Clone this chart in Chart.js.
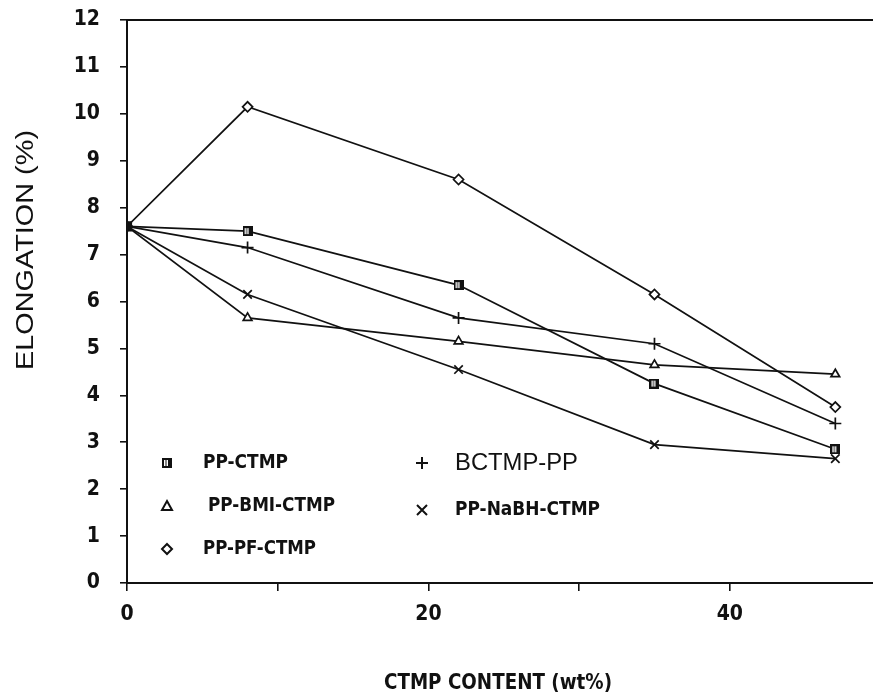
<!DOCTYPE html>
<html>
<head>
<meta charset="utf-8">
<script src="https://cdn.jsdelivr.net/npm/chart.js@4.4.0/dist/chart.umd.min.js"></script>
<style>
  body { margin: 0; background: #fff; }
  #wrap { width: 873px; height: 696px; }
</style>
</head>
<body>
<div id="wrap"><canvas id="myChart"></canvas></div>
<script>
const ctmpContent = [0, 8, 22, 35, 47];
const ppCtmp = [7.6, 7.5, 6.35, 4.25, 2.85];
const bctmpPp = [7.6, 7.15, 5.65, 5.1, 3.4];
const ppBmiCtmp = [7.6, 5.65, 5.15, 4.65, 4.45];
const ppNabhCtmp = [7.6, 6.15, 4.55, 2.95, 2.65];
const ppPfCtmp = [7.6, 10.15, 8.6, 6.15, 3.75];
const xTickLabels = [0, 20, 40];

const narrow = "'Liberation Sans Narrow', 'DejaVu Sans Condensed', 'Liberation Sans', Arial, sans-serif";
const plain = "Arial, 'Liberation Sans', sans-serif";

// little square with white bars, like the PP-CTMP mark
function makeSquareMark(size) {
    const c = document.createElement('canvas');
    c.width = size; c.height = size;
    const g = c.getContext('2d');
    g.fillStyle = '#111';
    g.fillRect(0, 0, size, size);
    g.fillStyle = '#fff';
    g.fillRect(2, 2, 1.5, size - 4);
    g.fillRect(size / 2 - 0.5, 2, 1.5, size - 4);
    return c;
}
const squareMark = makeSquareMark(10);

function toPoints(ys) {
    return ys.map((y, i) => ({ x: ctmpContent[i], y: y }));
}

function series(label, ys, style, radius, fill) {
    return {
        label: label,
        data: toPoints(ys),
        borderColor: '#111',
        borderWidth: 1.7,
        pointStyle: style,
        pointRadius: radius,
        pointBorderColor: '#111',
        pointBorderWidth: 1.7,
        pointBackgroundColor: fill,
        tension: 0,
        fill: false
    };
}

const datasets = [
    series('PP-CTMP', ppCtmp, ctx => ctx.dataIndex === 0 ? 'rect' : squareMark, ctx => ctx.dataIndex === 0 ? 6 : 5, '#111'),
    series('BCTMP-PP', bctmpPp, 'cross', 6, '#fff'),
    series('PP-BMI-CTMP', ppBmiCtmp, 'triangle', 5, '#fff'),
    series('PP-NaBH-CTMP', ppNabhCtmp, 'crossRot', 6, '#fff'),
    series('PP-PF-CTMP', ppPfCtmp, 'rectRot', 5, '#fff')
];

const legendRows = [
    { text: 'PP-CTMP', mark: 'square', mx: 167, tx: 203, y: 463, font: 'bold 19px ' + narrow, w: 85 },
    { text: 'PP-BMI-CTMP', mark: 'triangle', mx: 167, tx: 208, y: 506, font: 'bold 19px ' + narrow, w: 127 },
    { text: 'PP-PF-CTMP', mark: 'diamond', mx: 167, tx: 203, y: 549, font: 'bold 19px ' + narrow, w: 113 },
    { text: 'BCTMP-PP', mark: 'plus', mx: 422, tx: 455, y: 463, font: '24px ' + plain, w: 123 },
    { text: 'PP-NaBH-CTMP', mark: 'x', mx: 422, tx: 455, y: 510, font: 'bold 19px ' + narrow, w: 145 }
];

// draw text squeezed or stretched to a given width
function fitText(c, text, x, y, width) {
    const m = c.measureText(text).width;
    c.save();
    c.translate(x, y);
    c.scale(width / m, 1);
    c.fillText(text, 0, 0);
    c.restore();
}

const decorPlugin = {
    id: 'decor',
    afterDraw(chart) {
        const c = chart.ctx;
        const area = chart.chartArea;
        c.save();
        // top frame line
        c.strokeStyle = '#111';
        c.lineWidth = 2;
        c.beginPath();
        c.moveTo(area.left, area.top);
        c.lineTo(area.right, area.top);
        c.stroke();

        // legend
        c.fillStyle = '#111';
        c.textBaseline = 'middle';
        c.textAlign = 'left';
        legendRows.forEach(r => {
            c.lineWidth = 2;
            c.strokeStyle = '#111';
            if (r.mark === 'square') {
                c.drawImage(squareMark, r.mx - 5, r.y - 5);
            } else if (r.mark === 'triangle') {
                c.beginPath();
                c.moveTo(r.mx, r.y - 5);
                c.lineTo(r.mx + 5, r.y + 4);
                c.lineTo(r.mx - 5, r.y + 4);
                c.closePath();
                c.stroke();
            } else if (r.mark === 'diamond') {
                c.beginPath();
                c.moveTo(r.mx, r.y - 5);
                c.lineTo(r.mx + 5, r.y);
                c.lineTo(r.mx, r.y + 5);
                c.lineTo(r.mx - 5, r.y);
                c.closePath();
                c.stroke();
            } else if (r.mark === 'plus') {
                c.beginPath();
                c.moveTo(r.mx - 6, r.y); c.lineTo(r.mx + 6, r.y);
                c.moveTo(r.mx, r.y - 6); c.lineTo(r.mx, r.y + 6);
                c.stroke();
            } else if (r.mark === 'x') {
                c.beginPath();
                c.moveTo(r.mx - 5, r.y - 5); c.lineTo(r.mx + 5, r.y + 5);
                c.moveTo(r.mx + 5, r.y - 5); c.lineTo(r.mx - 5, r.y + 5);
                c.stroke();
            }
            c.font = r.font;
            fitText(c, r.text, r.tx, r.y, r.w);
        });

        // axis titles
        c.font = 'bold 22px ' + narrow;
        fitText(c, 'CTMP CONTENT (wt%)', 384, 683, 228);

        c.translate(27, 250);
        c.rotate(-Math.PI / 2);
        c.font = '23px ' + plain;
        fitText(c, 'ELONGATION (%)', -120, 0, 240);
        c.restore();
    }
};

const ctx = document.getElementById('myChart').getContext('2d');
new Chart(ctx, {
    type: 'line',
    data: { datasets: datasets },
    options: {
        responsive: true,
        maintainAspectRatio: false,
        animation: false,
        layout: { autoPadding: false, padding: { top: 20, right: 0, left: 0, bottom: 0 } },
        plugins: {
            legend: { display: false },
            tooltip: { enabled: false }
        },
        scales: {
            x: {
                type: 'linear',
                min: 0,
                max: 49.5,
                afterFit: s => { s.height = 113; s.paddingRight = 0; s.paddingLeft = 0; },
                afterBuildTicks: s => {
                    s.ticks = [0, 10, 20, 30, 40].map(v => ({ value: v }));
                },
                ticks: {
                    color: '#111',
                    padding: 11,
                    font: { family: narrow, size: 21, weight: 'bold' },
                    callback: v => xTickLabels.includes(v) ? String(v) : ''
                },
                grid: { drawOnChartArea: false, drawTicks: true, tickLength: 8, color: '#111', lineWidth: 1.6 },
                border: { display: true, color: '#111', width: 2 }
            },
            y: {
                min: 0,
                max: 12,
                afterFit: s => { s.width = 127; s.paddingTop = 0; s.paddingBottom = 0; },
                ticks: {
                    stepSize: 1,
                    color: '#111',
                    padding: 20,
                    font: { family: narrow, size: 21, weight: 'bold' }
                },
                grid: { drawOnChartArea: false, drawTicks: true, tickLength: 7, color: '#111', lineWidth: 1.6 },
                border: { display: true, color: '#111', width: 2 }
            }
        }
    },
    plugins: [decorPlugin]
});
</script>
</body>
</html>
